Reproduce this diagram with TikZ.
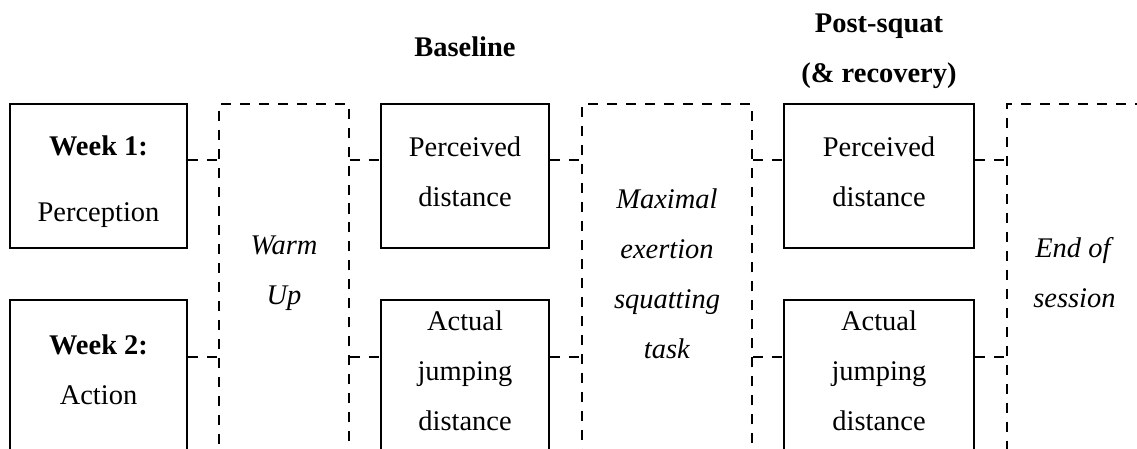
\documentclass[tikz,border=0pt]{standalone}
\usepackage{fontspec}
\setmainfont{Liberation Serif}
\usetikzlibrary{positioning}
\tikzset{box/.style = {draw, line width=1.2pt, minimum height=2.88cm, inner sep=0pt},
         phase/.style = {draw, line width=1.1pt, dash pattern=on 5.7pt off 5.1pt,
                         minimum height=8.32cm, inner sep=0pt},
         link/.style = {line width=1.1pt, dash pattern=on 5.7pt off 5.1pt},
         txt/.style = {align=center, font=\fontsize{16.2}{28.45}\selectfont}}

\begin{document}
\begin{tikzpicture}[x=0.02cm, y=0.02cm]
    \useasboundingbox (0, 0) rectangle (1137, 449);
    \clip (0, 0) rectangle (1137, 449);

    % heights of the links
    \coordinate (row1) at (0, 289);
    \coordinate (row2) at (0, 92);

    \node [box, minimum width=3.54cm] (week1) at (98.5, 273) {};
    \node [box, minimum width=3.54cm, minimum height=4.4cm] (week2) at (98.5, 39) {};
    \node [phase, minimum width=2.6cm] (warmup) at (284, 137) {};
    \node [box, minimum width=3.36cm] (base1) at (465, 273) {};
    \node [box, minimum width=3.36cm, minimum height=4.4cm] (base2) at (465, 39) {};
    \node [phase, minimum width=3.4cm] (squat) at (667, 137) {};
    \node [box, minimum width=3.8cm] (post1) at (879, 273) {};
    \node [box, minimum width=3.8cm, minimum height=4.4cm] (post2) at (879, 39) {};
    \node [phase, minimum width=3.86cm] (endsess) at (1103.5, 137) {};

    \foreach \a/\b in {week1/warmup, warmup/base1, base1/squat, squat/post1, post1/endsess}
        \draw [link] (\a.east |- row1) -- (\b.west |- row1);
    \foreach \a/\b in {week2/warmup, warmup/base2, base2/squat, squat/post2, post2/endsess}
        \draw [link] (\a.east |- row2) -- (\b.west |- row2);

    \node [txt, anchor=base] (basehead) at (465, 392) {\textbf{Baseline}};
    \node [txt] (posthead) at (879, 398) {\textbf{Post-squat}\\\textbf{(\& recovery)}};

    \node [txt] (week1txt) at (98.5, 267) {\textbf{Week 1:}\\[0.32cm]Perception};
    \node [txt] (week2txt) at (98.5, 79) {\textbf{Week 2:}\\Action};
    \node [txt] (warmtxt) at (284, 176) {\textit{Warm}\\\textit{Up}};
    \node [txt] (base1txt) at (465, 277) {Perceived\\distance};
    \node [txt] (base2txt) at (465, 78) {Actual\\jumping\\distance};
    \node [txt] (squattxt) at (667, 175) {\textit{Maximal}\\\textit{exertion}\\\textit{squatting}\\\textit{task}};
    \node [txt] (post1txt) at (879, 277) {Perceived\\distance};
    \node [txt] (post2txt) at (879, 78) {Actual\\jumping\\distance};
    \node [txt] (endtxt) at (1074.5, 176) {\textit{End of}\\\textit{session}};
\end{tikzpicture}
\end{document}
